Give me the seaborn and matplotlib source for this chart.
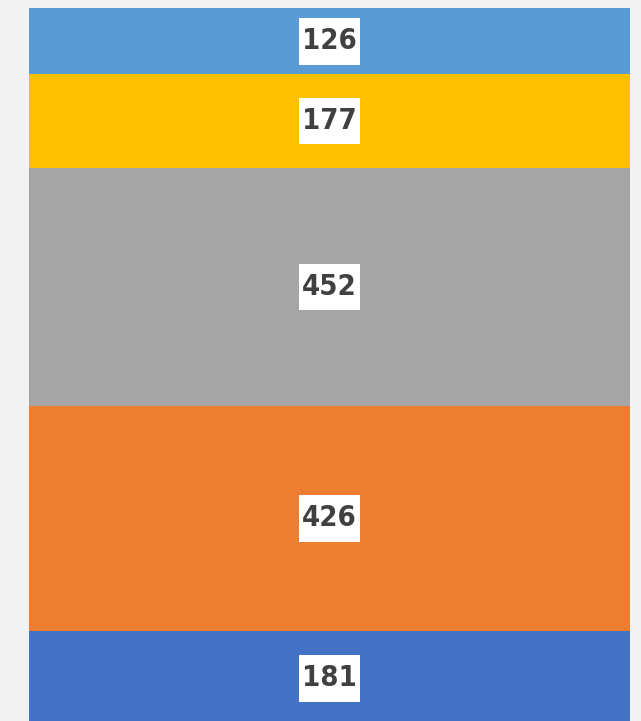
import matplotlib
matplotlib.use("Agg")
import matplotlib.pyplot as plt
from matplotlib.path import Path
import numpy as np
import pandas as pd
import seaborn as sns

# stacked segments, bottom to top
segments = ["s1", "s2", "s3", "s4", "s5"]
values = [181, 426, 452, 177, 126]
colors = ["#4472C4", "#ED7D31", "#A5A5A5", "#FFC000", "#5B9BD5"]

sns.set_style("white")
plt.rcParams['font.family'] = ['DejaVu Sans']


def label_box(x0, y0, width, height, mutation_size):
    # wider vertical padding than horizontal, like the data-label boxes
    px = 0.1 * mutation_size
    py = 0.32 * mutation_size
    x0, y0 = x0 - px, y0 - py
    x1, y1 = x0 + width + 2 * px, y0 + height + 2 * py
    return Path([(x0, y0), (x1, y0), (x1, y1), (x0, y1), (x0, y0)], closed=True)


fig = plt.figure(figsize=(6.41, 7.21), dpi=100)
fig.patch.set_facecolor("#F2F2F2")
ax = fig.add_axes([29/641, -5/721, 601/641, 718/721])

cum = np.cumsum(values)
# draw from tallest to shortest so each segment shows its own colour
for i in range(len(values) - 1, -1, -1):
    df = pd.DataFrame({"cat": ["a"], "val": [cum[i]]})
    sns.barplot(data=df, x="cat", y="val", color=colors[i], width=1.0,
                saturation=1, ax=ax, linewidth=0)

bottoms = cum - np.array(values)
for v, b in zip(values, bottoms):
    ax.text(0, b + v / 2, str(v), ha="center", va="center", fontsize=21,
            fontweight="bold", fontstretch="condensed", color="#404040",
            bbox=dict(boxstyle=label_box, facecolor="white", edgecolor="none"))

ax.set_xlim(-0.5, 0.5)
ax.set_ylim(0, cum[-1])
ax.axis("off")

fig.savefig("out.png", dpi=100, facecolor=fig.get_facecolor())
